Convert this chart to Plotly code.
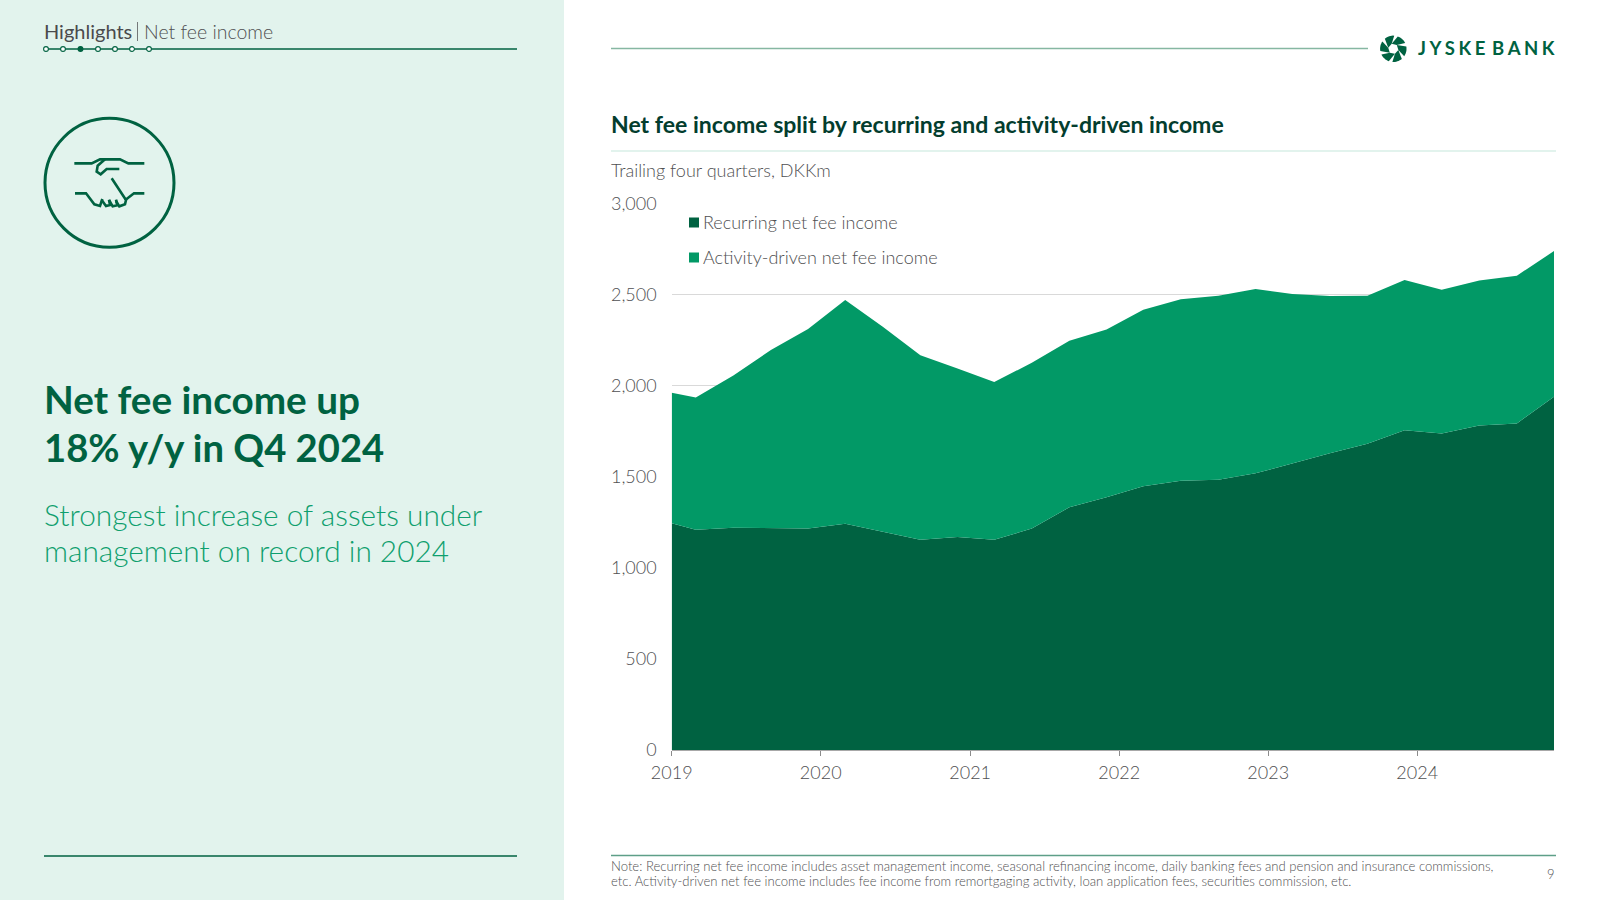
import math
import plotly.graph_objects as go

# ---- data -------------------------------------------------------------
dates = ["2019-01-01", "2019-03-01", "2019-06-01", "2019-09-01", "2019-12-01",
         "2020-03-01", "2020-06-01", "2020-09-01", "2020-12-01",
         "2021-03-01", "2021-06-01", "2021-09-01", "2021-12-01",
         "2022-03-01", "2022-06-01", "2022-09-01", "2022-12-01",
         "2023-03-01", "2023-06-01", "2023-09-01", "2023-12-01",
         "2024-03-01", "2024-06-01", "2024-09-01", "2024-12-01"]
recurring = [1244, 1209, 1220, 1220, 1216, 1242, 1198, 1154, 1169, 1154, 1215, 1332, 1387,
             1447, 1478, 1483, 1518, 1573, 1628, 1680, 1754, 1737, 1780, 1792, 1939]
activity = [717, 725, 835, 975, 1094, 1227, 1125, 1012, 925, 865, 910, 914, 921,
            969, 995, 1010, 1012, 929, 863, 813, 825, 789, 797, 811, 799]
series_names = ["Recurring net fee income", "Activity-driven net fee income"]
y_ticks = [0, 500, 1000, 1500, 2000, 2500, 3000]
y_labels = ["0", "500", "1,000", "1,500", "2,000", "2,500", "3,000"]

DARK = "#006241"
MID = "#029966"
PANEL = "#E2F3ED"
GREY = "#505052"
FONT = "Lato"

W, H = 1600, 900
def X(p): return p / W
def Y(p): return 1 - p / H

fig = go.Figure()
fig.add_trace(go.Scatter(x=dates, y=recurring, name=series_names[0], stackgroup="one",
                         mode="lines", line=dict(width=0, color=DARK), fillcolor=DARK,
                         showlegend=False))
fig.add_trace(go.Scatter(x=dates, y=activity, name=series_names[1], stackgroup="one",
                         mode="lines", line=dict(width=0, color=MID), fillcolor=MID,
                         showlegend=False))

shapes = []
def line(x0, y0, x1, y1, color=DARK, width=1.5):
    shapes.append(dict(type="line", xref="paper", yref="paper", x0=X(x0), x1=X(x1), y0=Y(y0), y1=Y(y1),
                       line=dict(color=color, width=width)))
def rect(x0, y0, x1, y1, color, layer="below"):
    shapes.append(dict(type="rect", xref="paper", yref="paper", x0=X(x0), x1=X(x1), y0=Y(y0), y1=Y(y1),
                       fillcolor=color, line=dict(width=0), layer=layer))
def circle(cx, cy, r, fill, color=DARK, width=1.5):
    shapes.append(dict(type="circle", xref="paper", yref="paper", x0=X(cx - r), x1=X(cx + r),
                       y0=Y(cy + r), y1=Y(cy - r), fillcolor=fill, line=dict(color=color, width=width)))
def poly(points, fill=None, color=None, width=0, closed=False):
    d = "M" + " L".join(f"{X(a):.5f},{Y(b):.5f}" for a, b in points) + (" Z" if closed else "")
    shapes.append(dict(type="path", xref="paper", yref="paper", path=d,
                       fillcolor=fill if fill else "rgba(0,0,0,0)",
                       line=dict(color=color if color else "rgba(0,0,0,0)", width=width)))

# left panel
rect(0, 0, 564, 900, PANEL)
line(44, 49, 517, 49, DARK, 1.6)
line(44, 856, 517, 856, DARK, 1.6)
for i, cx in enumerate([46, 63, 80.5, 98, 115, 132, 149]):
    circle(cx, 49, 2.4, DARK if i == 2 else "white", DARK, 1.1)
line(137.5, 22, 137.5, 41, "#58585A", 0.8)

# handshake icon
circle(109.5, 182.8, 64.5, "rgba(0,0,0,0)", DARK, 3)
def hs(pts):
    poly([(60 + a / 3, 145 + b / 3) for a, b in pts], color=DARK, width=2.6)
hs([(43, 55), (95, 55), (120, 43), (180, 43), (205, 55), (253, 55)])
hs([(135, 43), (113, 62), (110, 80), (122, 88), (140, 72), (178, 72)])
hs([(45, 145), (78, 145), (103, 178), (120, 183), (127, 162)])
hs([(125, 165), (138, 183), (150, 180), (147, 164)])
hs([(147, 165), (158, 184), (172, 181), (168, 164)])
hs([(168, 168), (178, 184), (195, 178), (198, 165), (155, 100)])
hs([(195, 166), (222, 145), (253, 145)])

# right header, rules
line(611, 48.5, 1368, 48.5, "#86B7A2", 1.3)
line(611, 151, 1556, 151, PANEL, 1.8)
line(611, 855.5, 1556, 855.5, "#5E9F88", 1.5)

# logo (pinwheel)
lcx, lcy, R, r = 1393.3, 48.8, 13.2, 5.2
for k in range(6):
    a0 = math.radians(60 * k + 12)
    a1 = a0 + math.radians(60)
    v0 = (lcx + r * math.cos(a0), lcy + r * math.sin(a0))
    v1 = (lcx + r * math.cos(a1), lcy + r * math.sin(a1))
    pts = [v0]
    for t in range(9):
        ang = a0 + math.radians(38) + math.radians(44) * t / 8
        pts.append((lcx + R * math.cos(ang), lcy + R * math.sin(ang)))
    pts.append(v1)
    poly(pts, fill=DARK, closed=True)

# legend swatches
rect(689, 217.5, 699, 227.5, DARK, "above")
rect(689, 252.5, 699, 262.5, MID, "above")

ann = []
def text(x, y, s, size, color=GREY, weight=400, anchor="left"):
    ann.append(dict(xref="paper", yref="paper", x=X(x), y=Y(y), text=s, showarrow=False,
                    xanchor=anchor, yanchor="middle", align=anchor, borderpad=0,
                    font=dict(family=FONT, size=size, color=color, weight=weight)))

text(43, 31, "Highlights", 20, "#4A4A4C", 400)
text(143, 31, "Net fee income", 19.5, GREY, 300)
text(43, 399, "Net fee income up", 38.7, DARK, 700)
text(43, 447, "18% y/y in Q4 2024", 38.2, DARK, 700)
text(43, 514, "Strongest increase of assets under", 29.8, "#0F9F6E", 300)
text(43, 550, "management on record in 2024", 29.8, "#0F9F6E", 300)
text(610, 124.5, "Net fee income split by recurring and activity-driven income", 23.05, "#033D2E", 700)
text(610, 170, "Trailing four quarters, DKKm", 18, GREY, 300)
text(702, 222, series_names[0], 18, GREY, 300)
text(702, 257, series_names[1], 18, GREY, 300)
text(610, 866, "Note: Recurring net fee income includes asset management income, seasonal refinancing income, "
     "daily banking fees and pension and insurance commissions,", 13.12, GREY, 300)
text(610, 880.5, "etc. Activity-driven net fee income includes fee income from remortgaging activity, "
     "loan application fees, securities commission, etc.", 13.12, GREY, 300)
text(1556, 874, "9", 13, GREY, 300, "right")
sp = "\u2009\u200a"
text(1417, 48.5, sp.join("JYSKE") + "\u2009 " + sp.join("BANK"), 18.5, DARK, 700)

fig.update_layout(
    template="none",
    width=W, height=H, autosize=False,
    margin=dict(l=0, r=0, t=0, b=0, pad=0, autoexpand=False),
    paper_bgcolor="white", plot_bgcolor="white",
    font=dict(family=FONT, color=GREY),
    showlegend=False,
    shapes=shapes, annotations=ann,
    xaxis=dict(domain=[X(671.7), X(1554)], type="date", range=["2019-01-01", "2024-12-01"],
               tick0="2019-01-01", dtick="M12", tickformat="%Y", automargin=False,
               ticks="outside", ticklen=5, tickwidth=1, tickcolor="#8C8C8C", ticklabelstandoff=1,
               showline=True, linecolor="#A8A8A8", linewidth=1, showgrid=False, zeroline=False,
               tickfont=dict(family=FONT, size=18, color=GREY, weight=300)),
    yaxis=dict(domain=[Y(750), Y(203.3)], range=[0, 3000], tickmode="array", automargin=False,
               tickvals=y_ticks, ticktext=y_labels, showgrid=True, gridcolor="#D9D9D9", gridwidth=1,
               zeroline=False, showline=False, ticks="", ticklabelstandoff=14,
               tickfont=dict(family=FONT, size=18, color=GREY, weight=300)),
)

fig.write_html("out.html", config={"displayModeBar": False},
               post_script="document.body.style.margin='0';document.body.style.overflow='hidden';")
